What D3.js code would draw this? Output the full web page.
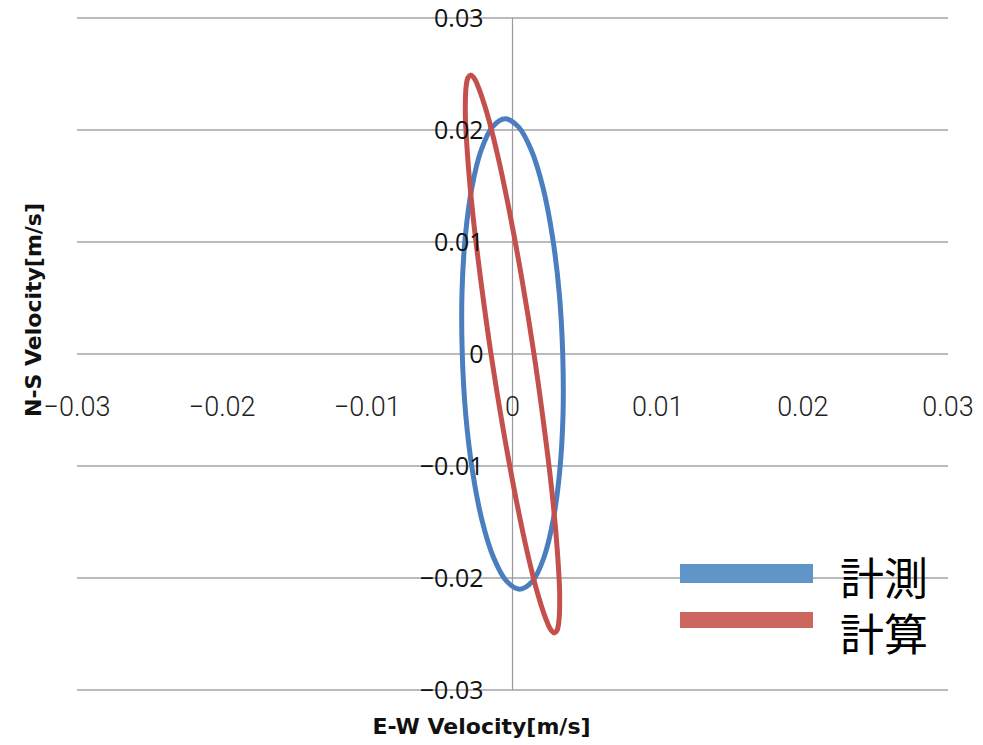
<!DOCTYPE html>
<html lang="ja">
<head>
<meta charset="utf-8">
<title>Velocity hodograph</title>
<script src="https://d3js.org/d3.v7.min.js"></script>
<style>
  html, body { margin: 0; padding: 0; background: #fff; }
  svg { display: block; }
</style>
</head>
<body>
<svg id="chart"></svg>
<script>
// ---- data ----
var xTicks = [-0.03, -0.02, -0.01, 0, 0.01, 0.02, 0.03];
var yTicks = [-0.03, -0.02, -0.01, 0, 0.01, 0.02, 0.03];
var seriesNames = ["計測", "計算"];

// 計測 (measured) - points around the loop, starting at the top
var measuredX = [-0.00050, -0.00138, -0.00216, -0.00280, -0.00325, -0.00348, -0.00346, -0.00322,
                 -0.00275, -0.00210, -0.00130, -0.00041, 0.00050, 0.00138, 0.00216, 0.00280,
                 0.00325, 0.00348, 0.00346, 0.00322, 0.00275, 0.00210, 0.00130, 0.00041];
var measuredY = [0.02100, 0.02028, 0.01819, 0.01485, 0.01050, 0.00544, 0.00000, -0.00544,
                 -0.01050, -0.01485, -0.01819, -0.02028, -0.02100, -0.02028, -0.01819, -0.01485,
                 -0.01050, -0.00544, 0.00000, 0.00544, 0.01050, 0.01485, 0.01819, 0.02028];

// 計算 (calculated)
var calcX = [-0.00290, -0.00306, -0.00318, -0.00325, -0.00309, -0.00273, -0.00217, -0.00148,
             -0.00068, 0.00017, 0.00100, 0.00177, 0.00242, 0.00268, 0.00290, 0.00306,
             0.00318, 0.00325, 0.00309, 0.00273, 0.00217, 0.00148, 0.00068, -0.00017,
             -0.00100, -0.00177, -0.00242, -0.00268];
var calcY = [0.02490, 0.02469, 0.02405, 0.02156, 0.01761, 0.01245, 0.00644, 0.00000,
             -0.00644, -0.01245, -0.01761, -0.02156, -0.02405, -0.02469, -0.02490, -0.02469,
             -0.02405, -0.02156, -0.01761, -0.01245, -0.00644, 0.00000, 0.00644, 0.01245,
             0.01761, 0.02156, 0.02405, 0.02469];

var W = 983, H = 745;
var svg = d3.select("#chart").attr("width", W).attr("height", H);

var x = d3.scaleLinear().domain([-0.03, 0.03]).range([77, 948]);
var y = d3.scaleLinear().domain([-0.03, 0.03]).range([690, 18]);

function fmt(v) {
  if (v === 0) return "0";
  return d3.format(".2f")(v);
}

// horizontal gridlines
svg.append("g").selectAll("line")
  .data(yTicks).enter().append("line")
  .attr("x1", x(-0.03)).attr("x2", x(0.03))
  .attr("y1", function(d) { return y(d); })
  .attr("y2", function(d) { return y(d); })
  .attr("stroke", "#a3a3a3")
  .attr("stroke-width", 1.6);

// vertical axis line at x = 0
svg.append("line")
  .attr("x1", x(0)).attr("x2", x(0))
  .attr("y1", y(0.03)).attr("y2", y(-0.03))
  .attr("stroke", "#9a9a9a")
  .attr("stroke-width", 1.2);

// loops
var line = d3.line()
  .x(function(d) { return x(d[0]); })
  .y(function(d) { return y(d[1]); })
  .curve(d3.curveCatmullRomClosed.alpha(0.5));

var measured = d3.zip(measuredX, measuredY);
var calc = d3.zip(calcX, calcY);

svg.append("path")
  .attr("d", line(measured))
  .attr("fill", "none")
  .attr("stroke", "#4a7ebf")
  .attr("stroke-width", 5)
  .attr("stroke-linejoin", "round");

svg.append("path")
  .attr("d", line(calc))
  .attr("fill", "none")
  .attr("stroke", "#c4504d")
  .attr("stroke-width", 5)
  .attr("stroke-linejoin", "round");

// y tick labels, next to the vertical axis (on top of the loops)
svg.append("g").selectAll("text")
  .data(yTicks).enter().append("text")
  .attr("x", x(0) - 29)
  .attr("y", function(d) { return y(d); })
  .attr("dy", "0.36em")
  .attr("text-anchor", "end")
  .attr("font-family", "'Open Sans', sans-serif")
  .attr("font-size", 25)
  .attr("fill", "#111")
  .text(function(d) { return fmt(d); });

// x tick labels, below the zero line
svg.append("g").selectAll("text")
  .data(xTicks).enter().append("text")
  .attr("x", function(d) { return x(d); })
  .attr("y", y(0) + 62)
  .attr("text-anchor", "middle")
  .attr("font-family", "Roboto, sans-serif")
  .attr("font-weight", 300)
  .attr("font-size", 27)
  .attr("fill", "#222")
  .text(function(d) { return fmt(d).replace("-", "\u2212"); });

// axis titles
svg.append("text")
  .attr("x", (x(-0.03) + x(0.03)) / 2 - 31)
  .attr("y", 734)
  .attr("text-anchor", "middle")
  .attr("font-family", "'DejaVu Sans', sans-serif")
  .attr("font-weight", "bold")
  .attr("font-size", 22)
  .attr("fill", "#111")
  .text("E-W Velocity[m/s]");

svg.append("text")
  .attr("transform", "translate(41,310) rotate(-90)")
  .attr("text-anchor", "middle")
  .attr("font-family", "'DejaVu Sans', sans-serif")
  .attr("font-weight", "bold")
  .attr("font-size", 22)
  .attr("fill", "#111")
  .text("N-S Velocity[m/s]");

// legend
var legendColors = ["#5f95c9", "#cc665f"];
var legend = svg.append("g");
legend.selectAll("rect")
  .data(seriesNames).enter().append("rect")
  .attr("x", 680)
  .attr("y", function(d, i) { return i === 0 ? 564 : 612; })
  .attr("width", 133)
  .attr("height", function(d, i) { return i === 0 ? 19 : 16; })
  .attr("fill", function(d, i) { return legendColors[i]; });
legend.selectAll("text")
  .data(seriesNames).enter().append("text")
  .attr("x", 840)
  .attr("y", function(d, i) { return i === 0 ? 595 : 651; })
  .attr("font-family", "'Noto Sans CJK JP', sans-serif")
  .attr("font-size", 44)
  .attr("fill", "#000")
  .text(function(d) { return d; });
</script>
</body>
</html>
